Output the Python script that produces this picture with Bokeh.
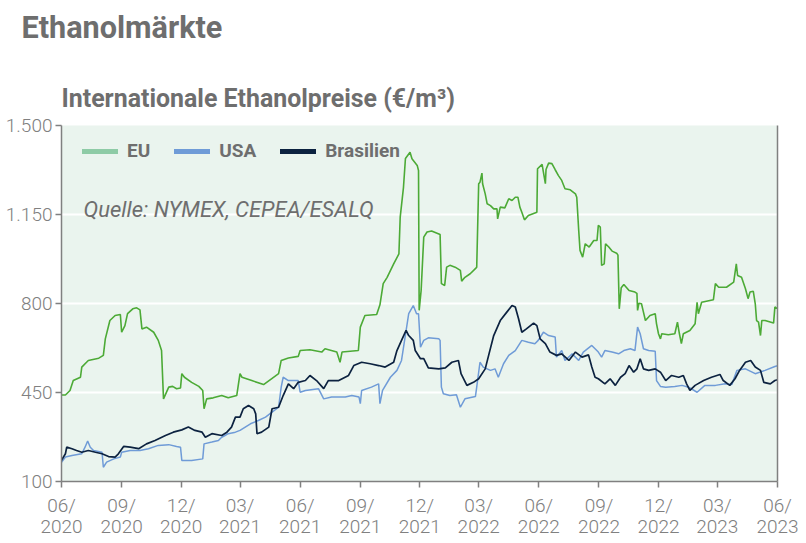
import pandas as pd
from bokeh.plotting import figure
from bokeh.models import (FixedTicker, Label, Legend, LegendItem, LinearAxis,
                          Range1d, DatetimeTickFormatter, Title)
from bokeh.embed import file_html
from bokeh.resources import INLINE

# ---------------- data ----------------
start_date = "2020-06-01"          # day 0
end_date = "2023-06-01"

# EU
eu_day = [0,6,13,18,29,31,41,57,64,67,74,82,90,92,97,101,109,115,120,123,
          130,141,148,153,156,164,170,176,182,184,188,199,210,216,218,222,232,245,255,268,
          273,276,291,309,319,332,336,347,362,365,380,398,403,421,426,429,454,457,464,482,
          487,492,498,508,516,518,523,526,533,536,544,546,547,550,554,559,566,579,581,586,
          589,594,602,610,612,617,625,633,635,638,640,643,644,648,651,656,661,666,667,671,
          678,684,689,694,698,701,704,708,714,727,728,735,737,740,741,745,750,755,760,765,
          770,778,786,788,791,793,797,801,807,814,819,821,824,826,830,832,837,842,849,851,
          853,856,860,868,877,880,881,883,887,890,893,900,908,910,913,916,918,928,938,942,
          945,948,951,961,969,972,974,979,997,1000,1005,1017,1028,1032,1034,1040,1046,1050,1053,1058,
          1061,1063,1066,1069,1071,1076,1089,1091,1095]
eu_val = [440,440,458,497,510,550,576,585,596,661,733,753,757,687,713,760,779,783,775,700,
          707,687,655,615,425,471,474,465,468,524,510,490,474,458,386,425,429,438,429,438,
          524,510,497,481,500,524,576,586,592,615,618,609,622,609,569,609,615,707,753,757,
          795,878,903,956,995,1140,1257,1370,1395,1369,1343,1323,773,851,1061,1081,1085,1071,878,871,
          943,950,943,930,888,903,917,937,943,1271,1277,1313,1271,1231,1192,1185,1172,1172,1133,1179,
          1176,1212,1205,1218,1218,1179,1159,1129,1146,1159,1330,1347,1317,1271,1327,1352,1350,1326,1303,1284,
          1251,1247,1231,1218,1087,1009,982,1035,1022,1048,1048,1107,1100,950,956,1035,1022,1006,998,990,
          779,862,875,851,845,840,773,801,799,766,733,753,760,720,681,661,681,677,681,727,
          681,642,681,694,720,805,760,805,815,878,864,864,884,956,910,903,858,819,845,848,
          799,733,727,674,733,733,723,786,780]

# USA
usa_day = [0,6,16,31,36,40,44,49,62,64,69,80,90,92,105,120,133,148,164,176,
           182,184,199,216,218,230,240,245,250,255,266,273,289,301,312,322,332,336,339,347,
           362,365,373,393,401,413,434,444,455,457,459,474,485,487,491,503,513,520,531,538,
           543,546,549,554,561,577,579,581,584,594,604,610,617,633,635,640,645,656,663,668,
           676,684,694,704,714,724,729,737,745,755,757,765,770,781,791,798,811,821,826,831,
           842,852,860,870,877,881,885,890,898,908,910,916,924,938,949,959,972,984,1000,1015,
           1025,1033,1046,1061,1076,1091,1095]
usa_val = [176,196,202,209,235,259,235,222,215,156,176,189,196,215,222,222,229,242,245,238,
           235,183,183,189,248,255,261,274,281,288,294,301,327,340,353,373,392,471,510,497,
           497,451,458,465,425,432,432,438,432,406,458,471,484,406,458,510,537,576,760,792,
           760,760,628,655,665,661,655,471,445,438,441,392,425,434,471,569,550,537,543,510,
           563,596,615,655,648,642,655,687,674,668,589,615,576,602,576,609,635,609,589,615,
           609,602,615,622,615,707,681,622,615,612,497,474,471,474,478,471,451,478,478,484,
           481,537,543,524,537,552,555]

# Brasilien
bra_day = [0,6,8,16,23,31,41,52,62,72,82,87,95,105,118,130,143,159,171,184,
           194,204,215,220,230,245,253,260,266,273,278,286,294,297,299,306,317,322,332,339,
           347,355,362,373,380,390,401,408,424,439,447,459,472,485,495,508,513,520,527,531,
           538,541,549,554,561,577,587,597,607,611,620,630,638,648,654,661,671,681,689,694,
           699,704,711,722,727,732,740,747,757,765,776,786,796,806,811,816,821,831,839,847,
           855,862,868,875,880,885,890,898,908,916,924,933,944,951,956,961,969,982,994,1007,
           1012,1022,1030,1037,1046,1054,1061,1069,1074,1084,1091,1095]
bra_val = [183,209,235,229,222,215,222,215,209,198,196,209,238,235,229,248,261,281,294,303,
           314,301,294,274,288,281,294,314,353,353,386,399,386,366,288,294,314,386,392,438,
           484,465,490,497,517,497,465,497,497,517,556,569,563,556,550,569,615,655,694,674,
           655,615,583,583,547,543,547,569,576,524,478,490,504,543,604,674,733,766,792,786,
           740,687,700,723,713,661,642,609,596,602,576,609,589,598,550,510,504,484,504,478,
           510,524,556,530,543,583,543,537,543,530,497,517,510,517,484,458,478,497,510,521,
           497,478,504,537,569,576,550,537,490,484,497,500]

series_names = ["EU", "USA", "Brasilien"]
y_ticks = [100, 450, 800, 1150, 1500]
y_tick_labels = ["100", "450", "800", "1.150", "1.500"]
x_tick_dates = ["2020-06-01", "2020-09-01", "2020-12-01", "2021-03-01", "2021-06-01",
                "2021-09-01", "2021-12-01", "2022-03-01", "2022-06-01", "2022-09-01",
                "2022-12-01", "2023-03-01", "2023-06-01"]
x_tick_labels = ["06/\n2020", "09/\n2020", "12/\n2020", "03/\n2021", "06/\n2021",
                 "09/\n2021", "12/\n2021", "03/\n2022", "06/\n2022", "09/\n2022",
                 "12/\n2022", "03/\n2023", "06/\n2023"]
main_title = "Ethanolmärkte"
chart_title = "Internationale Ethanolpreise (€/m³)"
source_note = "Quelle: NYMEX, CEPEA/ESALQ"

# ---------------- styling ----------------
line_colors = ["#4caa36", "#6f9bd7", "#0c2240"]
line_widths = [1.6, 1.5, 1.7]
legend_colors = ["#8ecba6", "#6f9bd7", "#0c2240"]
text_gray = "#6e6e6e"
tick_gray = "#808080"

t0 = pd.Timestamp(start_date)
def to_dates(days):
    return [t0 + pd.Timedelta(days=d) for d in days]

p = figure(width=806, height=543, x_axis_type="datetime",
           x_range=Range1d(pd.Timestamp(start_date), pd.Timestamp(end_date)),
           y_range=Range1d(100, 1500),
           title=main_title,
           output_backend="svg", toolbar_location=None,
           min_border_left=61, min_border_right=29,
           min_border_top=125, min_border_bottom=62)

# title stack (nearest the frame first): chart title, blank gap, main title
p.title.text_font = "Roboto"
p.title.text_font_style = "bold"
p.title.text_font_size = "30.6px"
p.title.text_color = text_gray
p.title.offset = -40
p.title.standoff = 0
p.add_layout(Title(text=chart_title, text_font="Roboto", text_font_style="bold",
                   text_font_size="24.9px", text_color=text_gray,
                   offset=0, standoff=26), "above")
p.add_layout(Title(text=" ", text_font="Roboto", text_font_size="12px",
                   text_color="white", standoff=8), "above")

p.outline_line_color = None
p.background_fill_color = "#eaf4ee"
p.border_fill_color = "white"
p.xgrid.visible = False
p.ygrid.grid_line_color = "white"
p.ygrid.grid_line_width = 2

# axes
ms = [pd.Timestamp(d).value / 1e6 for d in x_tick_dates]
p.xaxis.ticker = FixedTicker(ticks=ms)
p.xaxis.formatter = DatetimeTickFormatter(months="%m/%Y", days="%m/%Y", years="%m/%Y")
p.xaxis.major_label_overrides = {m: lab for m, lab in zip(ms, x_tick_labels)}
p.yaxis.ticker = FixedTicker(ticks=y_ticks)
p.yaxis.major_label_overrides = {t: lab for t, lab in zip(y_ticks, y_tick_labels)}

for ax in (p.xaxis[0], p.yaxis[0]):
    ax.axis_line_color = tick_gray
    ax.axis_line_width = 1.5
    ax.major_tick_line_color = tick_gray
    ax.major_tick_line_width = 1.5
    ax.major_tick_in = 0
    ax.major_tick_out = 6
    ax.minor_tick_line_color = None
    ax.major_label_text_font = "Roboto Light"
    ax.major_label_text_font_size = "19px"
    ax.major_label_text_color = tick_gray
p.yaxis.major_label_standoff = 3
p.xaxis.major_label_standoff = 6
p.xaxis.major_label_text_line_height = 0.95

right = LinearAxis(axis_line_color=tick_gray, axis_line_width=1.5,
                   major_tick_line_color=None, minor_tick_line_color=None,
                   major_label_text_font_size="0px", major_label_text_color=None)
p.add_layout(right, "right")

# lines
for days, vals, col, lw in zip([eu_day, usa_day, bra_day], [eu_val, usa_val, bra_val],
                               line_colors, line_widths):
    p.line(x=to_dates(days), y=vals, line_color=col, line_width=lw)

# legend (swatches in legend colours, renderers hold no visible data)
items = []
for name, col in zip(series_names, legend_colors):
    r = p.line(x=[t0, t0], y=[float("nan"), float("nan")], line_color=col,
               line_width=5, line_cap="round")
    items.append(LegendItem(label=name, renderers=[r]))
legend = Legend(items=items, orientation="horizontal", location=(21, 319),
                glyph_width=36, glyph_height=20, label_standoff=9, spacing=24,
                padding=0, margin=0, label_text_font="Roboto", label_text_font_style="bold",
                label_text_font_size="19px", label_text_color=text_gray,
                background_fill_alpha=0, border_line_alpha=0)
p.add_layout(legend)

# source note
p.add_layout(Label(x=22, y=272, x_units="screen", y_units="screen", text=source_note,
                   text_font="Roboto", text_font_style="italic", text_font_size="22px",
                   text_color=text_gray, text_baseline="alphabetic"))

open("out.html", "w").write(file_html(p, INLINE))
